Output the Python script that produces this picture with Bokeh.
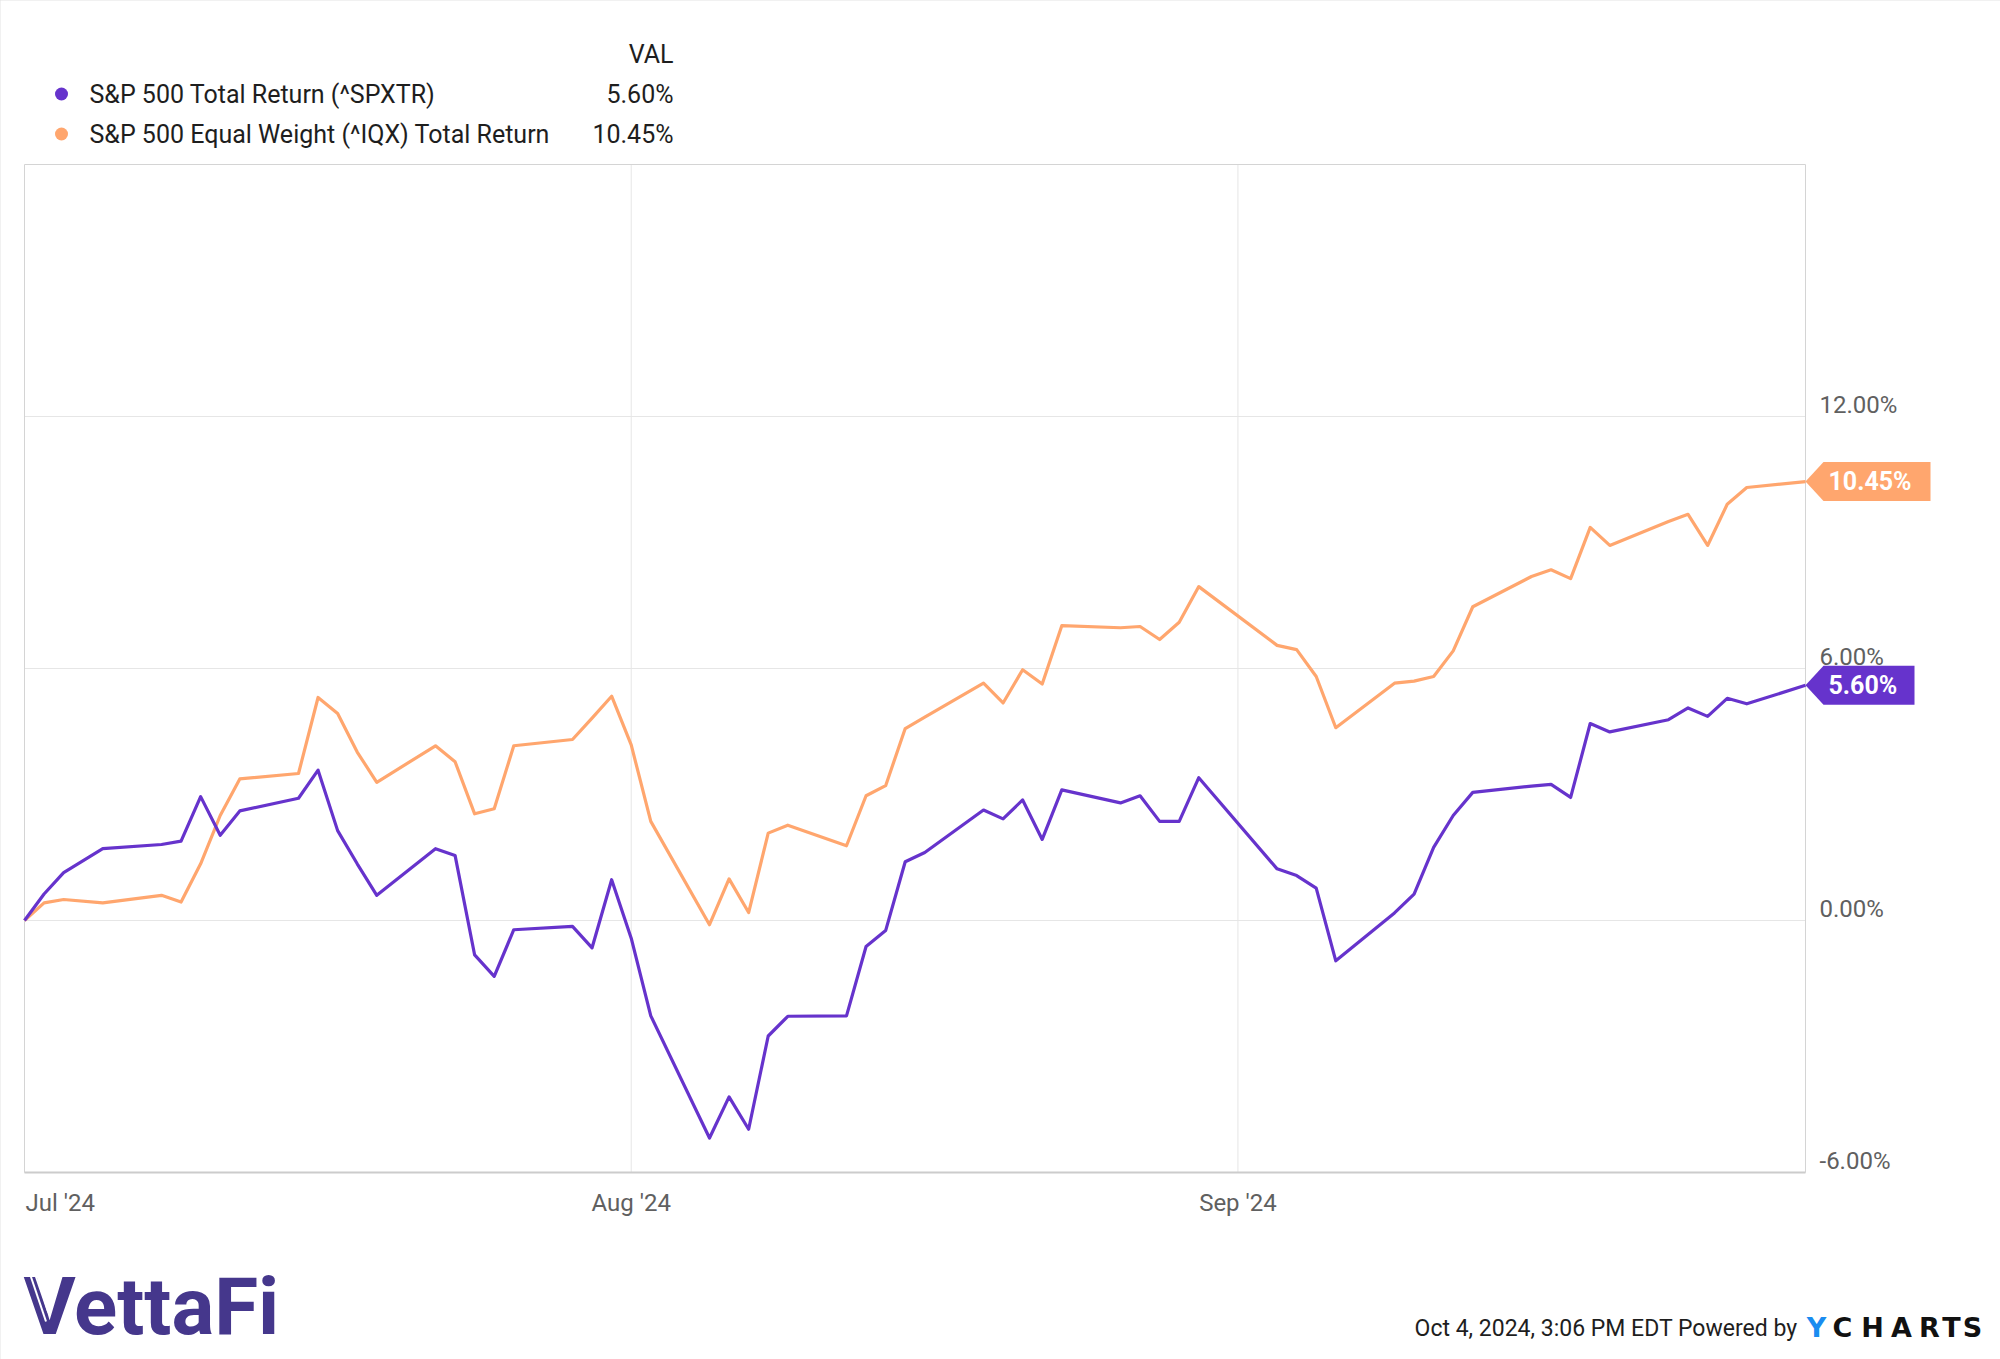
import pandas as pd
from bokeh.plotting import figure
from bokeh.models import Range1d
from bokeh.core.properties import value
from bokeh.embed import file_html
from bokeh.resources import INLINE

# ---------------- data ----------------
dates = [
    "2024-07-01", "2024-07-02", "2024-07-03", "2024-07-05", "2024-07-08", "2024-07-09",
    "2024-07-10", "2024-07-11", "2024-07-12", "2024-07-15", "2024-07-16", "2024-07-17",
    "2024-07-18", "2024-07-19", "2024-07-22", "2024-07-23", "2024-07-24", "2024-07-25",
    "2024-07-26", "2024-07-29", "2024-07-30", "2024-07-31",
    "2024-08-01", "2024-08-02", "2024-08-05", "2024-08-06", "2024-08-07", "2024-08-08",
    "2024-08-09", "2024-08-12", "2024-08-13", "2024-08-14", "2024-08-15", "2024-08-16",
    "2024-08-19", "2024-08-20", "2024-08-21", "2024-08-22", "2024-08-23", "2024-08-26",
    "2024-08-27", "2024-08-28", "2024-08-29", "2024-08-30",
    "2024-09-03", "2024-09-04", "2024-09-05", "2024-09-06", "2024-09-09", "2024-09-10",
    "2024-09-11", "2024-09-12", "2024-09-13", "2024-09-16", "2024-09-17", "2024-09-18",
    "2024-09-19", "2024-09-20", "2024-09-23", "2024-09-24", "2024-09-25", "2024-09-26",
    "2024-09-27", "2024-09-30",
]

spxtr_ret = [
    0.00, 0.63, 1.14, 1.71, 1.81, 1.89, 2.95, 2.03, 2.61, 2.91, 3.58, 2.14,
    1.35, 0.60, 1.71, 1.55, -0.82, -1.33, -0.22, -0.14, -0.65, 0.97,
    -0.42, -2.27, -5.18, -4.20, -4.97, -2.75, -2.28, -2.27, -0.62, -0.24, 1.40, 1.62,
    2.63, 2.42, 2.87, 1.93, 3.11, 2.80, 2.97, 2.36, 2.36, 3.40,
    1.23, 1.07, 0.77, -0.96, 0.18, 0.63, 1.74, 2.50, 3.05, 3.20, 3.24, 2.93,
    4.69, 4.49, 4.78, 5.06, 4.86, 5.29, 5.16, 5.60,
]

iqx_ret = [
    0.00, 0.42, 0.50, 0.42, 0.60, 0.44, 1.35, 2.50, 3.37, 3.50, 5.31, 4.93,
    4.01, 3.29, 4.16, 3.78, 2.54, 2.66, 4.16, 4.31, 4.82, 5.34,
    4.18, 2.36, -0.10, 0.99, 0.19, 2.08, 2.27, 1.78, 2.97, 3.21, 4.57, 4.84,
    5.65, 5.18, 5.97, 5.63, 7.02, 6.97, 7.00, 6.69, 7.10, 7.95,
    6.55, 6.45, 5.81, 4.59, 5.65, 5.70, 5.81, 6.42, 7.47, 8.19, 8.35, 8.14,
    9.36, 8.93, 9.50, 9.67, 8.93, 9.91, 10.31, 10.45,
]

series_names = ["S&P 500 Total Return (^SPXTR)",
                "S&P 500 Equal Weight (^IQX) Total Return"]
series_colors = ["#6633cc", "#ffa66e"]
value_header = "VAL"
month_ticks = ["2024-07-01", "2024-08-01", "2024-09-01"]
month_labels = ["Jul '24", "Aug '24", "Sep '24"]
y_ticks = [-6, 0, 6, 12]
footer_text = "Oct 4, 2024, 3:06 PM EDT Powered by"
brand_text = "VettaFi"
ycharts_letters = ["Y", "C", "H", "A", "R", "T", "S"]

# ---------------- geometry (pixel layout of the chart area) ----------------
W, H = 2000, 1359
FL, FR, FT, FB = 24, 1805, 164, 1172
X0, X1 = pd.Timestamp("2024-07-01"), pd.Timestamp("2024-09-30")
Y0, Y1 = -6.0, 18.0


def ms(t):
    return pd.Timestamp(t).value / 1e6


x0m, x1m = ms(X0), ms(X1)
KX = (x1m - x0m) / (FR - FL)      # ms per pixel
KY = (Y1 - Y0) / (FB - FT)        # % per pixel


def px2x(px):
    return x0m + (px - FL) * KX


def py2y(py):
    return Y1 - (py - FT) * KY


FONT = value("Roboto")
TICK_COLOR = "#606060"
TEXT_COLOR = "#1e1e1e"
GRID_COLOR = "#e6e6e6"

p = figure(width=W, height=H, x_axis_type="datetime",
           x_axis_location=None, y_axis_location=None,
           output_backend="svg", toolbar_location=None,
           x_range=Range1d(px2x(0), px2x(W)), y_range=Range1d(py2y(H), py2y(0)),
           min_border=0, outline_line_color=None,
           background_fill_color="white", border_fill_color="white",
           styles={"outline": "2px solid #e2e2e2", "outline-offset": "-2px"})
p.grid.visible = False

# grid lines
vt = [ms(t) for t in month_ticks[1:]]
p.segment(x0=vt, y0=[Y0] * len(vt), x1=vt, y1=[Y1] * len(vt),
          line_color=GRID_COLOR, line_width=1)
p.segment(x0=[x0m] * len(y_ticks), y0=y_ticks, x1=[x1m] * len(y_ticks), y1=y_ticks,
          line_color=GRID_COLOR, line_width=1)
# chart area border
p.line([x0m, x0m, x1m, x1m], [Y0, Y1, Y1, Y0], line_color="#d4d4d4", line_width=1)
p.line([x0m, x1m], [Y0, Y0], line_color="#cccccc", line_width=2)

# series
x_dates = pd.to_datetime(dates)
p.line(x_dates, iqx_ret, line_color=series_colors[1], line_width=3.2,
       line_join="round")
p.line(x_dates, spxtr_ret, line_color=series_colors[0], line_width=3.2,
       line_join="round")

# y tick labels (right side, sitting just above the grid line)
p.text(x=[px2x(1819)] * len(y_ticks), y=[t + 11.5 * KY for t in y_ticks],
       text=[f"{t:.2f}%" for t in y_ticks], text_font=FONT,
       text_font_size="24px", text_color=TICK_COLOR,
       text_align="left", text_baseline="middle")

# x tick labels
xl_mid = py2y(1202)
p.text(x=[x0m + KX], y=[xl_mid], text=[month_labels[0]], text_font=FONT,
       text_font_size="24px", text_color=TICK_COLOR,
       text_align="left", text_baseline="middle")
p.text(x=vt, y=[xl_mid] * len(vt), text=month_labels[1:], text_font=FONT,
       text_font_size="24px", text_color=TICK_COLOR,
       text_align="center", text_baseline="middle")

# legend
finals = [spxtr_ret[-1], iqx_ret[-1]]
leg_mid = [93.5, 133.5]
p.text(x=[px2x(673)], y=[py2y(54)], text=[value_header], text_font=FONT,
       text_font_size="25px", text_color=TEXT_COLOR,
       text_align="right", text_baseline="middle")
p.scatter(x=[px2x(61)] * 2, y=[py2y(m) for m in leg_mid], size=13,
          marker="circle", fill_color=series_colors, line_color=None)
p.text(x=[px2x(89)] * 2, y=[py2y(m) for m in leg_mid], text=series_names,
       text_font=FONT, text_font_size="25px", text_color=TEXT_COLOR,
       text_align="left", text_baseline="middle")
p.text(x=[px2x(673)] * 2, y=[py2y(m) for m in leg_mid],
       text=[f"{v:.2f}%" for v in finals],
       text_font=FONT, text_font_size="25px", text_color=TEXT_COLOR,
       text_align="right", text_baseline="middle")

# end-value flags
flag_right = [1914, 1930]
half_h = 19.5 * KY
for v, col, rpx in zip(finals, series_colors, flag_right):
    xs = [x1m, px2x(1823), px2x(rpx), px2x(rpx), px2x(1823)]
    ys = [v, v + half_h, v + half_h, v - half_h, v - half_h]
    p.patch(xs, ys, fill_color=col, line_color=None)
p.text(x=[px2x(1828)] * 2, y=finals,
       text=[f"{v:.2f}%" for v in finals], text_font=FONT,
       text_font_size="25px", text_font_style="bold", text_color="white",
       text_align="left", text_baseline="middle")

# brand logo text (kept fully inside the canvas)
BRAND = "#45378c"
p.text(x=[px2x(23)], y=[py2y(1306)], text=[brand_text], text_font=FONT,
       text_font_size="80px", text_font_style="bold", text_color=BRAND,
       text_align="left", text_baseline="middle")
# white cuts turning the V's left arm into stripes
p.segment(x0=[px2x(29.0), px2x(34.0)], y0=[py2y(1272), py2y(1272)],
          x1=[px2x(45.5), px2x(47.8)], y1=[py2y(1321), py2y(1312)],
          line_color="white", line_width=2.0)

# footer
p.text(x=[px2x(1797)], y=[py2y(1328)], text=[footer_text], text_font=FONT,
       text_font_size="23px", text_color=TEXT_COLOR,
       text_align="right", text_baseline="middle")
yc_centers = [1816, 1842, 1872, 1901, 1929, 1951, 1972]
p.text(x=[px2x(c) for c in yc_centers], y=[py2y(1327)] * len(yc_centers),
       text=ycharts_letters, text_font=value("DejaVu Sans"),
       text_font_size="27px", text_font_style="bold",
       text_color=["#1a8cf0"] + ["#111111"] * (len(yc_centers) - 1),
       text_align="center", text_baseline="middle")

open("out.html", "w").write(file_html(p, INLINE))
